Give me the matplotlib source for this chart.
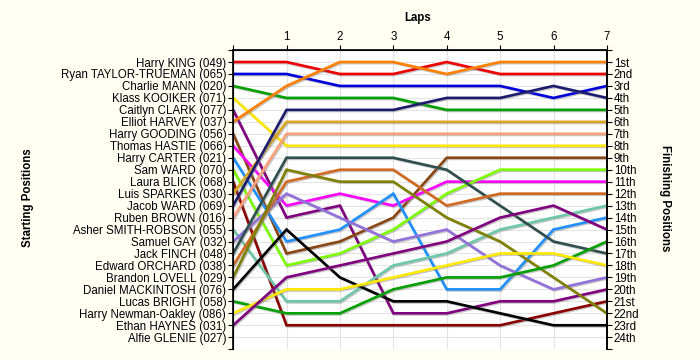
import matplotlib
matplotlib.use('Agg')
import matplotlib.pyplot as plt
import matplotlib.patheffects as pe

plt.rcParams['font.family'] = ['Liberation Sans', 'DejaVu Sans']

# riders in starting order
riders = ['Harry KING (049)', 'Ryan TAYLOR-TRUEMAN (065)', 'Charlie MANN (020)',
          'Klass KOOIKER (071)', 'Caitlyn CLARK (077)', 'Elliot HARVEY (037)',
          'Harry GOODING (056)', 'Thomas HASTIE (066)', 'Harry CARTER (021)',
          'Sam WARD (070)', 'Laura BLICK (068)', 'Luis SPARKES (030)',
          'Jacob WARD (069)', 'Ruben BROWN (016)', 'Asher SMITH-ROBSON (055)',
          'Samuel GAY (032)', 'Jack FINCH (048)', 'Edward ORCHARD (038)',
          'Brandon LOVELL (029)', 'Daniel MACKINTOSH (076)', 'Lucas BRIGHT (058)',
          'Harry Newman-Oakley (086)', 'Ethan HAYNES (031)', 'Alfie GLENIE (027)']

# position of each rider (starting order, Alfie GLENIE has no laps) after each lap
lap0 = [1, 2, 3, 4, 5, 6, 7, 8, 9, 10, 11, 12, 13, 14, 15, 16, 17, 18, 19, 20, 21, 22, 23]
lap1 = [1, 2, 4, 8, 14, 3, 17, 13, 16, 18, 23, 6, 5, 7, 21, 12, 9, 11, 10, 15, 22, 20, 19]
lap2 = [2, 3, 4, 8, 13, 1, 16, 12, 15, 17, 23, 6, 5, 7, 21, 14, 9, 10, 11, 19, 22, 20, 18]
lap3 = [2, 3, 4, 8, 22, 1, 14, 13, 12, 15, 23, 6, 5, 7, 18, 16, 9, 10, 11, 21, 20, 19, 17]
lap4 = [1, 3, 5, 8, 22, 2, 9, 11, 20, 12, 23, 6, 4, 7, 17, 15, 10, 13, 14, 21, 19, 18, 16]
lap5 = [2, 3, 5, 8, 21, 1, 9, 11, 20, 10, 23, 6, 4, 7, 15, 18, 13, 12, 16, 22, 19, 17, 14]
lap6 = [2, 4, 5, 8, 21, 1, 9, 11, 15, 10, 22, 6, 3, 7, 14, 20, 16, 12, 19, 23, 18, 17, 13]
lap7 = [2, 3, 5, 8, 20, 1, 9, 11, 14, 10, 21, 6, 4, 7, 13, 19, 17, 12, 22, 23, 16, 18, 15]
laps = [lap0, lap1, lap2, lap3, lap4, lap5, lap6, lap7]

finish_labels = ['1st', '2nd', '3rd', '4th', '5th', '6th', '7th', '8th', '9th', '10th',
                 '11th', '12th', '13th', '14th', '15th', '16th', '17th', '18th', '19th',
                 '20th', '21st', '22nd', '23rd', '24th']

colors = ['#ee0000', '#0000dd', '#00a000', '#ffe800', '#800080', '#ff8000',
          '#8b4513', '#ff00ff', '#1e90ff', '#7cfc00', '#8b0000', '#daa520',
          '#1c1c6c', '#ffa07a', '#6cc8a8', '#9370db', '#2f4f4f', '#d2691e',
          '#808000', '#000000', '#00a000', '#ffe800', '#800080']

fig = plt.figure(figsize=(7, 3.6), dpi=100, facecolor='#fffff4')
ax = fig.add_axes([0.333, 0.03, 0.534, 0.831])
ax.set_facecolor('white')

x = list(range(len(laps)))
shadow = [pe.SimpleLineShadow(offset=(0.8, -0.8), shadow_color='#808080', alpha=0.45),
          pe.Normal()]
for i in range(len(lap0)):
    ys = [lp[i] for lp in laps]
    ax.plot(x, ys, color=colors[i], lw=1.9, solid_joinstyle='miter',
            path_effects=shadow, zorder=3)

ax.set_xlim(0, 7)
ax.set_ylim(25, 0)
ax.set_xticks(range(8))
ax.set_xticklabels([''] + [str(k) for k in range(1, 8)], fontsize=8.3)
ax.xaxis.tick_top()
ax.set_yticks(range(26))
ax.set_yticklabels([''] + riders + [''], fontsize=8.3)
ax.tick_params(axis='both', direction='out', length=3.5, width=0.8, pad=1.5)
ax.grid(True, color='#e4e4e4', lw=0.8, zorder=0)
for s in ['left', 'right', 'top']:
    ax.spines[s].set_linewidth(1.2)
ax.spines['bottom'].set_visible(False)

ax2 = ax.twinx()
ax2.set_ylim(25, 0)
ax2.set_yticks(range(26))
ax2.set_yticklabels([''] + finish_labels + [''], fontsize=8.3)
ax2.tick_params(axis='y', direction='out', length=3.5, width=0.8, pad=1.5)
ax2.spines['bottom'].set_visible(False)
ax2.spines['right'].set_linewidth(1.2)

fig.text(0.597, 0.95, 'Laps', ha='center', va='center', fontsize=8.3, fontweight='bold')
fig.text(0.04, 0.45, 'Starting Positions', ha='center', va='center', rotation=90,
         fontsize=8.3, fontweight='bold')
fig.text(0.95, 0.45, 'Finishing Positions', ha='center', va='center', rotation=270,
         fontsize=8.3, fontweight='bold')

plt.savefig('out.png', dpi=100, facecolor=fig.get_facecolor())
plt.close()
